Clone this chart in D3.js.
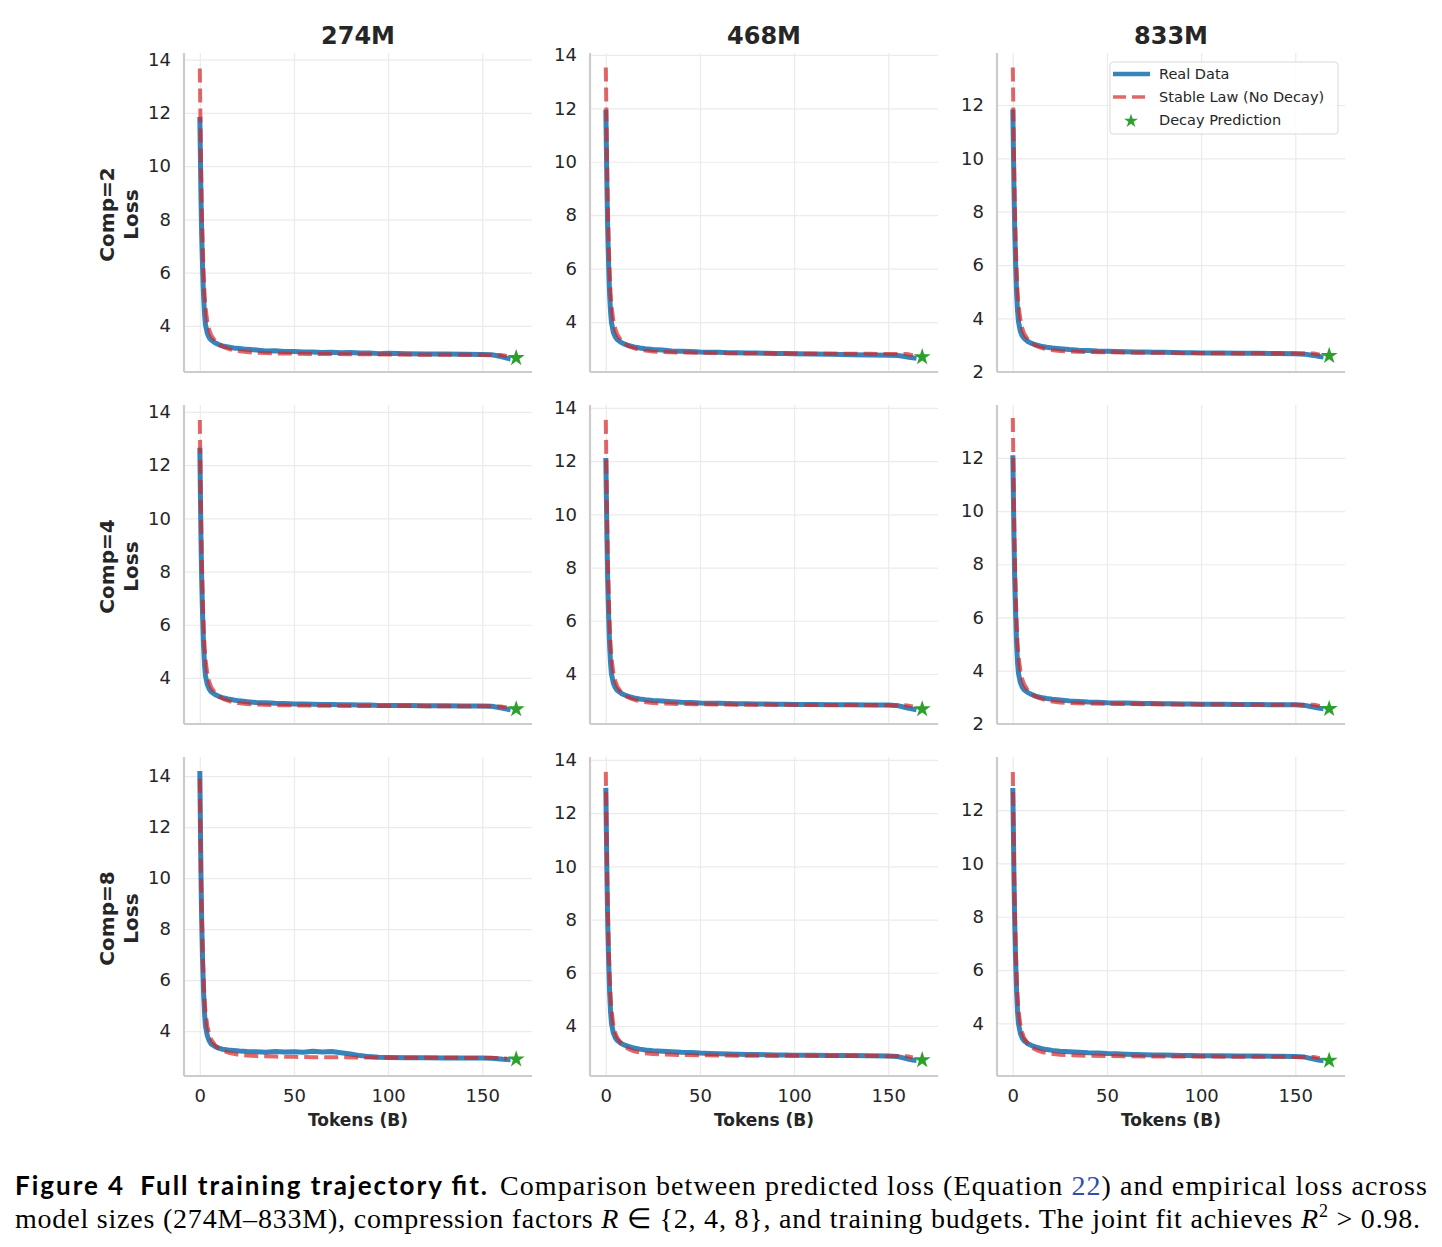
<!DOCTYPE html>
<html>
<head>
<meta charset="utf-8">
<script src="https://cdn.jsdelivr.net/npm/d3@7"></script>
<style>
  body { margin: 0; background: #fff; }
  text { font-family: "DejaVu Sans", sans-serif; fill: #262626; }
</style>
</head>
<body>
<svg id="chart" width="1442" height="1247"></svg>
<script>
// Panel labels
var MODELS = ['274M', '468M', '833M'];
var COMPS = ['Comp=2', 'Comp=4', 'Comp=8'];
var X_TICKS = [0, 50, 100, 150];
var Y_TICKS = [2, 4, 6, 8, 10, 12, 14];

// Token positions (B) for the measured curves and the fitted law
var TOKENS_REAL = [0, 0.3, 0.6, 1, 1.5, 2, 2.5, 3, 4, 5, 6, 8, 10, 12, 15, 18, 21, 25, 30, 35, 40, 45, 50, 55, 60,
  65, 70, 75, 80, 85, 90, 95, 100, 110, 120, 130, 140, 150, 155, 158, 161, 163, 165];
var TOKENS_FIT = [0, 0.3, 0.6, 1, 1.5, 2, 2.5, 3, 4, 5, 6, 8, 10, 13, 16, 20, 25, 30, 40, 50, 60, 80, 100, 120, 140, 160, 163];
var TOKENS_PRED = 168;

// Real data, one array per panel (row = compression, col = model)
var REAL_C2_274 = [11.85, 10.4, 8.9, 7.4, 6.1, 5.1, 4.45, 4.05, 3.72, 3.56, 3.47, 3.37, 3.3, 3.25, 3.21, 3.17, 3.15, 3.12, 3.1, 3.06,
  3.07, 3.04, 3.04, 3.02, 3.02, 3.0, 3.01, 2.99, 3.0, 2.98, 2.98, 2.96, 2.97, 2.96, 2.95, 2.95, 2.94, 2.93, 2.92, 2.88, 2.83, 2.79, 2.76];
var REAL_C2_468 = [11.95, 10.5, 9.0, 7.45, 6.1, 5.05, 4.4, 3.98, 3.62, 3.45, 3.35, 3.24, 3.17, 3.12, 3.07, 3.03, 3.0, 2.97, 2.95, 2.92,
  2.91, 2.9, 2.88, 2.87, 2.87, 2.85, 2.85, 2.84, 2.84, 2.83, 2.82, 2.82, 2.81, 2.8, 2.79, 2.78, 2.77, 2.76, 2.75, 2.72, 2.68, 2.66, 2.64];
var REAL_C2_833 = [11.83, 10.4, 8.9, 7.35, 6.0, 4.95, 4.3, 3.88, 3.52, 3.35, 3.25, 3.13, 3.06, 3.01, 2.96, 2.92, 2.89, 2.86, 2.83, 2.81,
  2.8, 2.78, 2.77, 2.76, 2.75, 2.74, 2.74, 2.73, 2.73, 2.72, 2.71, 2.71, 2.7, 2.7, 2.69, 2.69, 2.68, 2.67, 2.66, 2.63, 2.6, 2.57, 2.55];
var REAL_C4_274 = [12.65, 11.0, 9.3, 7.7, 6.3, 5.2, 4.5, 4.08, 3.75, 3.58, 3.48, 3.38, 3.31, 3.26, 3.21, 3.17, 3.14, 3.11, 3.08, 3.07,
  3.05, 3.04, 3.02, 3.02, 3.01, 3.0, 3.0, 2.99, 2.99, 2.98, 2.98, 2.97, 2.97, 2.97, 2.96, 2.96, 2.95, 2.95, 2.94, 2.9, 2.86, 2.83, 2.8];
var REAL_C4_468 = [12.12, 10.6, 9.05, 7.5, 6.15, 5.1, 4.42, 4.0, 3.66, 3.49, 3.39, 3.28, 3.21, 3.16, 3.1, 3.06, 3.03, 3.0, 2.98, 2.96,
  2.94, 2.93, 2.91, 2.9, 2.9, 2.89, 2.88, 2.88, 2.87, 2.87, 2.86, 2.86, 2.85, 2.85, 2.84, 2.84, 2.83, 2.83, 2.81, 2.76, 2.71, 2.68, 2.65];
var REAL_C4_833 = [12.1, 10.6, 9.0, 7.45, 6.1, 5.0, 4.32, 3.9, 3.55, 3.38, 3.28, 3.17, 3.1, 3.04, 2.99, 2.95, 2.92, 2.89, 2.86, 2.84,
  2.82, 2.81, 2.79, 2.78, 2.78, 2.77, 2.76, 2.76, 2.75, 2.75, 2.74, 2.74, 2.73, 2.73, 2.72, 2.72, 2.71, 2.71, 2.69, 2.65, 2.61, 2.58, 2.56];
var REAL_C8_274 = [14.2, 12.2, 10.2, 8.3, 6.7, 5.5, 4.7, 4.2, 3.82, 3.62, 3.5, 3.4, 3.33, 3.29, 3.26, 3.24, 3.22, 3.2, 3.19, 3.17,
  3.2, 3.18, 3.19, 3.17, 3.21, 3.18, 3.2, 3.15, 3.1, 3.04, 3.0, 2.98, 2.97, 2.96, 2.96, 2.95, 2.95, 2.95, 2.94, 2.92, 2.9, 2.89, 2.88];
var REAL_C8_468 = [12.95, 11.3, 9.6, 7.9, 6.45, 5.3, 4.55, 4.1, 3.74, 3.56, 3.46, 3.35, 3.28, 3.23, 3.17, 3.13, 3.1, 3.07, 3.05, 3.03,
  3.01, 3.0, 2.98, 2.97, 2.96, 2.95, 2.94, 2.93, 2.93, 2.92, 2.91, 2.91, 2.9, 2.9, 2.89, 2.89, 2.88, 2.87, 2.85, 2.8, 2.75, 2.72, 2.7];
var REAL_C8_833 = [12.83, 11.2, 9.5, 7.8, 6.35, 5.2, 4.45, 4.0, 3.63, 3.45, 3.35, 3.24, 3.17, 3.12, 3.06, 3.02, 2.99, 2.96, 2.94, 2.92,
  2.9, 2.89, 2.87, 2.86, 2.85, 2.84, 2.83, 2.82, 2.82, 2.81, 2.8, 2.8, 2.79, 2.79, 2.78, 2.78, 2.77, 2.76, 2.74, 2.69, 2.65, 2.62, 2.6];

// Stable law (no decay) fit per panel
var FIT_C2_274 = [13.67, 11.9, 10.2, 8.6, 7.1, 6.0, 5.2, 4.7, 4.15, 3.85, 3.66, 3.44, 3.31, 3.19, 3.12, 3.06, 3.02, 2.99, 2.97, 2.96, 2.95, 2.94, 2.93, 2.92, 2.92, 2.91, 2.87];
var FIT_C2_468 = [13.53, 11.8, 10.1, 8.5, 7.0, 5.9, 5.1, 4.6, 4.05, 3.74, 3.55, 3.32, 3.19, 3.07, 3.0, 2.94, 2.9, 2.88, 2.86, 2.85, 2.84, 2.83, 2.82, 2.81, 2.81, 2.8, 2.76];
var FIT_C2_833 = [13.41, 11.7, 10.0, 8.4, 6.9, 5.8, 5.0, 4.5, 3.95, 3.63, 3.43, 3.2, 3.07, 2.95, 2.88, 2.82, 2.78, 2.76, 2.74, 2.73, 2.72, 2.71, 2.7, 2.69, 2.69, 2.68, 2.64];
var FIT_C4_274 = [13.7, 11.9, 10.2, 8.6, 7.1, 6.0, 5.2, 4.7, 4.15, 3.85, 3.66, 3.44, 3.31, 3.19, 3.12, 3.06, 3.02, 3.0, 2.98, 2.97, 2.96, 2.95, 2.95, 2.94, 2.94, 2.93, 2.89];
var FIT_C4_468 = [13.55, 11.8, 10.1, 8.5, 7.0, 5.9, 5.1, 4.6, 4.05, 3.74, 3.55, 3.32, 3.19, 3.08, 3.01, 2.95, 2.91, 2.89, 2.87, 2.86, 2.85, 2.84, 2.84, 2.83, 2.83, 2.82, 2.78];
var FIT_C4_833 = [13.5, 11.75, 10.05, 8.45, 6.95, 5.85, 5.05, 4.55, 4.0, 3.68, 3.48, 3.25, 3.12, 2.99, 2.92, 2.85, 2.8, 2.78, 2.76, 2.75, 2.74, 2.73, 2.72, 2.72, 2.71, 2.71, 2.67];
var FIT_C8_274 = [13.9, 12.0, 10.3, 8.7, 7.2, 6.05, 5.25, 4.75, 4.18, 3.87, 3.68, 3.46, 3.33, 3.21, 3.14, 3.08, 3.04, 3.02, 3.0, 2.99, 2.98, 2.97, 2.96, 2.96, 2.95, 2.95, 2.92];
var FIT_C8_468 = [13.55, 11.8, 10.1, 8.5, 7.0, 5.9, 5.1, 4.6, 4.05, 3.75, 3.57, 3.35, 3.22, 3.1, 3.03, 2.98, 2.95, 2.93, 2.91, 2.9, 2.89, 2.88, 2.88, 2.87, 2.87, 2.86, 2.82];
var FIT_C8_833 = [13.43, 11.7, 10.0, 8.4, 6.9, 5.8, 5.0, 4.5, 3.96, 3.65, 3.46, 3.24, 3.1, 2.99, 2.92, 2.87, 2.83, 2.81, 2.79, 2.78, 2.77, 2.76, 2.76, 2.75, 2.75, 2.74, 2.7];

// Decay prediction (star) per panel
var PRED_C2 = [2.8, 2.69, 2.6];
var PRED_C4 = [2.83, 2.68, 2.56];
var PRED_C8 = [2.9, 2.72, 2.61];

// Axis ranges per panel
var YDOM_C2 = [[2.27, 14.25], [2.13, 14.07], [1.99, 13.95]];
var YDOM_C4 = [[2.27, 14.26], [2.12, 14.11], [1.99, 13.99]];
var YDOM_C8 = [[2.24, 14.75], [2.12, 14.11], [2.03, 13.99]];
var XDOM = [-8.4, 176.4];

var REAL = [[REAL_C2_274, REAL_C2_468, REAL_C2_833], [REAL_C4_274, REAL_C4_468, REAL_C4_833], [REAL_C8_274, REAL_C8_468, REAL_C8_833]];
var FIT = [[FIT_C2_274, FIT_C2_468, FIT_C2_833], [FIT_C4_274, FIT_C4_468, FIT_C4_833], [FIT_C8_274, FIT_C8_468, FIT_C8_833]];
var PRED = [PRED_C2, PRED_C4, PRED_C8];
var YDOM = [YDOM_C2, YDOM_C4, YDOM_C8];

// layout
var COL_LEFT = [184, 590, 997];
var ROW_TOP = [53, 405, 757];
var PW = 348, PH = 319;

var BLUE = '#1f77b4', RED = '#d62728', GREEN = '#2ca02c';

var svg = d3.select('#chart');

var x = d3.scaleLinear().domain(XDOM).range([0, PW]);

// column titles
MODELS.forEach(function(m, c) {
  svg.append('text')
    .attr('x', COL_LEFT[c] + PW / 2)
    .attr('y', 44)
    .attr('text-anchor', 'middle')
    .style('font-size', '24px')
    .style('font-weight', 'bold')
    .text(m);
});

COMPS.forEach(function(comp, r) {
  // row label (two lines)
  var cy = ROW_TOP[r] + PH / 2 + 2;
  [[comp, 107], ['Loss', 131]].forEach(function(d) {
    svg.append('text')
      .attr('transform', 'translate(' + d[1] + ',' + cy + ') rotate(-90)')
      .attr('text-anchor', 'middle')
      .attr('dy', '0.36em')
      .style('font-size', '20px')
      .style('font-weight', 'bold')
      .text(d[0]);
  });

  MODELS.forEach(function(m, c) {
    var g = svg.append('g')
      .attr('transform', 'translate(' + COL_LEFT[c] + ',' + ROW_TOP[r] + ')');

    var dom = YDOM[r][c];
    var y = d3.scaleLinear().domain(dom).range([PH, 0]);
    var yt = Y_TICKS.filter(function(t) { return t >= dom[0] && t <= dom[1]; });

    // gridlines
    g.append('g')
      .attr('class', 'grid')
      .call(d3.axisLeft(y).tickValues(yt).tickSize(-PW).tickFormat(''));
    g.append('g')
      .attr('class', 'grid')
      .attr('transform', 'translate(0,' + PH + ')')
      .call(d3.axisBottom(x).tickValues(X_TICKS).tickSize(-PH).tickFormat(''));
    g.selectAll('.grid .domain').remove();
    g.selectAll('.grid line').attr('stroke', '#ebebeb').attr('stroke-width', 1.2);

    // y axis labels
    var ya = g.append('g')
      .call(d3.axisLeft(y).tickValues(yt).tickSize(0).tickPadding(13));
    ya.select('.domain').remove();
    ya.selectAll('text').style('font-size', '18px').style('font-family', '"DejaVu Sans", sans-serif').attr('fill', '#262626');

    // x axis labels, bottom row only
    if (r === COMPS.length - 1) {
      var xa = g.append('g')
        .attr('transform', 'translate(0,' + PH + ')')
        .call(d3.axisBottom(x).tickValues(X_TICKS).tickSize(0).tickPadding(13));
      xa.select('.domain').remove();
      xa.selectAll('text').style('font-size', '18px').style('font-family', '"DejaVu Sans", sans-serif').attr('fill', '#262626');

      g.append('text')
        .attr('x', PW / 2)
        .attr('y', PH + 50)
        .attr('text-anchor', 'middle')
        .style('font-size', '17px')
        .style('font-weight', 'bold')
        .text('Tokens (B)');
    }

    // spines
    g.append('line').attr('x1', 0).attr('x2', 0).attr('y1', 0).attr('y2', PH)
      .attr('stroke', '#cccccc').attr('stroke-width', 2.2);
    g.append('line').attr('x1', 0).attr('x2', PW).attr('y1', PH).attr('y2', PH)
      .attr('stroke', '#cccccc').attr('stroke-width', 2.2);

    var realPts = TOKENS_REAL.map(function(t, i) { return [t, REAL[r][c][i]]; });
    var fitPts = TOKENS_FIT.map(function(t, i) { return [t, FIT[r][c][i]]; });

    var line = d3.line()
      .x(function(d) { return x(d[0]); })
      .y(function(d) { return y(d[1]); });

    g.append('path')
      .datum(realPts)
      .attr('fill', 'none')
      .attr('stroke', BLUE)
      .attr('stroke-opacity', 0.9)
      .attr('stroke-width', 5)
      .attr('stroke-linejoin', 'round')
      .attr('d', line);

    g.append('path')
      .datum(fitPts)
      .attr('fill', 'none')
      .attr('stroke', RED)
      .attr('stroke-opacity', 0.7)
      .attr('stroke-width', 4)
      .attr('stroke-dasharray', '14,6')
      .attr('d', line);

    g.append('path')
      .attr('d', d3.symbol().type(d3.symbolStar).size(90))
      .attr('transform', 'translate(' + x(TOKENS_PRED) + ',' + y(PRED[r][c]) + ')')
      .attr('fill', GREEN);

    // legend in the top-right panel
    if (r === 0 && c === MODELS.length - 1) {
      var lg = g.append('g').attr('transform', 'translate(113,9)');
      lg.append('rect')
        .attr('width', 228).attr('height', 72).attr('rx', 3)
        .attr('fill', '#fff').attr('fill-opacity', 0.8)
        .attr('stroke', '#d9d9d9').attr('stroke-width', 1);
      var items = ['Real Data', 'Stable Law (No Decay)', 'Decay Prediction'];
      items.forEach(function(label, i) {
        var ly = 12 + i * 23;
        if (i === 0) {
          lg.append('line').attr('x1', 3).attr('x2', 40).attr('y1', ly).attr('y2', ly)
            .attr('stroke', BLUE).attr('stroke-opacity', 0.9).attr('stroke-width', 4.5);
        } else if (i === 1) {
          lg.append('line').attr('x1', 3).attr('x2', 40).attr('y1', ly).attr('y2', ly)
            .attr('stroke', RED).attr('stroke-opacity', 0.7).attr('stroke-width', 3.6)
            .attr('stroke-dasharray', '13,6');
        } else {
          lg.append('path')
            .attr('d', d3.symbol().type(d3.symbolStar).size(60))
            .attr('transform', 'translate(21,' + (ly + 1) + ')')
            .attr('fill', GREEN);
        }
        lg.append('text')
          .attr('x', 49).attr('y', ly)
          .attr('dy', '0.35em')
          .style('font-size', '14.5px')
          .text(label);
      });
    }
  });
});

// caption
svg.append('text')
  .attr('x', 15).attr('y', 1195)
  .attr('textLength', 472)
  .style('font-family', 'Lato, "DejaVu Sans", sans-serif')
  .style('font-weight', 'bold')
  .style('font-size', '26px')
  .style('fill', '#000')
  .text('Figure 4\u2002Full training trajectory fit.');

var cap1 = svg.append('text')
  .attr('x', 500).attr('y', 1195)
  .attr('textLength', 927)
  .style('font-family', '"Liberation Serif", serif')
  .style('font-size', '28px')
  .style('fill', '#000');
cap1.append('tspan').text('Comparison between predicted loss (Equation ');
cap1.append('tspan').style('fill', '#2f4fa8').text('22');
cap1.append('tspan').text(') and empirical loss across');

var cap2 = svg.append('text')
  .attr('x', 15).attr('y', 1228)
  .attr('textLength', 1405)
  .style('font-family', '"Liberation Serif", serif')
  .style('font-size', '28px')
  .style('fill', '#000');
cap2.append('tspan').text('model sizes (274M\u2013833M), compression factors ');
cap2.append('tspan').style('font-style', 'italic').text('R');
cap2.append('tspan').text(' \u2208 {2, 4, 8}, and training budgets. The joint fit achieves ');
cap2.append('tspan').style('font-style', 'italic').text('R');
cap2.append('tspan').attr('dy', -11).style('font-size', '18px').text('2');
cap2.append('tspan').attr('dy', 11).text(' > 0.98.');
</script>
</body>
</html>
